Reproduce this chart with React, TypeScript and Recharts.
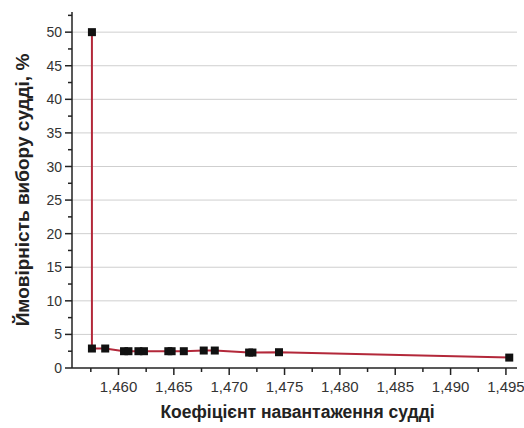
import { LineChart, Line, XAxis, YAxis, ReferenceLine, Label } from "recharts";

// коефіцієнт навантаження судді
const xValues = [
  1.4576, 1.4576, 1.4588, 1.4605, 1.4609, 1.4618, 1.4623, 1.4645, 1.4648, 1.4659, 1.4677, 1.4687,
  1.4718, 1.4721, 1.4745, 1.4953,
];
// ймовірність вибору судді, %
const yValues = [50, 2.9, 2.9, 2.5, 2.5, 2.5, 2.5, 2.5, 2.5, 2.5, 2.6, 2.6, 2.3, 2.3, 2.35, 1.55];

const xMajorTicks = [1.46, 1.465, 1.47, 1.475, 1.48, 1.485, 1.49, 1.495];
const xMinorTicks = [1.4575, 1.4625, 1.4675, 1.4725, 1.4775, 1.4825, 1.4875, 1.4925];
const yMajorTicks = [0, 5, 10, 15, 20, 25, 30, 35, 40, 45, 50];
const yMinorTicks = [2.5, 7.5, 12.5, 17.5, 22.5, 27.5, 32.5, 37.5, 42.5, 47.5, 52.5];
const gridValues = [5, 10, 15, 20, 25, 30, 35, 40, 45, 50];

const data = xValues.map((x, i) => ({ x, y: yValues[i] }));

const FONT = "'Liberation Sans', Arial, sans-serif";
const AXIS = "#222";

const isMajor = (v: number, list: number[]) => list.some((t) => Math.abs(t - v) < 1e-7);

function XTick({ x, y, payload }: any) {
  const major = isMajor(payload.value, xMajorTicks);
  return (
    <g>
      <line x1={x} x2={x} y1={y} y2={y + (major ? 7 : 4)} stroke={AXIS} strokeWidth={1.5} />
      {major && (
        <text x={x} y={y + 24} textAnchor="middle" fontSize={15} fill="#333" fontFamily={FONT}>
          {payload.value.toFixed(3).replace(".", ",")}
        </text>
      )}
    </g>
  );
}

function YTick({ x, y, payload }: any) {
  const major = isMajor(payload.value, yMajorTicks);
  return (
    <g>
      <line x1={x} x2={x - (major ? 7 : 4)} y1={y} y2={y} stroke={AXIS} strokeWidth={1.5} />
      {major && (
        <text x={x - 10} y={y} dy="0.36em" textAnchor="end" fontSize={14} fill="#333" fontFamily={FONT}>
          {payload.value}
        </text>
      )}
    </g>
  );
}

function SquareDot({ cx, cy }: any) {
  if (cx == null || cy == null) return null;
  return <rect x={cx - 4} y={cy - 4} width={8} height={8} fill="#111" />;
}

export default function App() {
  const xTicks = [...xMajorTicks, ...xMinorTicks].sort((a, b) => a - b);
  const yTicks = [...yMajorTicks, ...yMinorTicks].sort((a, b) => a - b);

  return (
    <div style={{ position: "absolute", left: 0, top: 0, background: "#fff", fontFamily: FONT }}>
      <LineChart width={524} height={428} data={data} margin={{ top: 12, right: 7, bottom: 0, left: 0 }}>
        {gridValues.map((v) => (
          <ReferenceLine key={v} y={v} stroke="#cfcfcf" strokeWidth={1} ifOverflow="visible" />
        ))}
        <XAxis
          dataKey="x"
          type="number"
          domain={[1.4558, 1.496]}
          ticks={xTicks}
          allowDataOverflow
          height={60}
          tickSize={0}
          tickMargin={0}
          tickLine={false}
          axisLine={{ stroke: AXIS, strokeWidth: 1.5 }}
          tick={<XTick />}
          interval={0}
        >
          <Label
            value="Коефіцієнт навантаження судді"
            position="insideBottom"
            offset={10}
            dx={3}
            style={{ fontSize: 17.5, fontWeight: "bold", fill: "#222", fontFamily: FONT }}
          />
        </XAxis>
        <YAxis
          dataKey="y"
          type="number"
          domain={[0, 53]}
          ticks={yTicks}
          allowDataOverflow
          width={72}
          tickSize={0}
          tickMargin={0}
          tickLine={false}
          axisLine={{ stroke: AXIS, strokeWidth: 1.5 }}
          tick={<YTick />}
          interval={0}
        >
          <Label
            value="Ймовірність вибору судді, %"
            angle={-90}
            position="insideLeft"
            offset={25}
            dx={-3}
            style={{ fontSize: 19, fontWeight: "bold", fill: "#222", fontFamily: FONT, textAnchor: "middle" }}
          />
        </YAxis>
        <Line
          dataKey="y"
          stroke="#b3283a"
          strokeWidth={2}
          dot={<SquareDot />}
          activeDot={false}
          isAnimationActive={false}
        />
      </LineChart>
    </div>
  );
}
